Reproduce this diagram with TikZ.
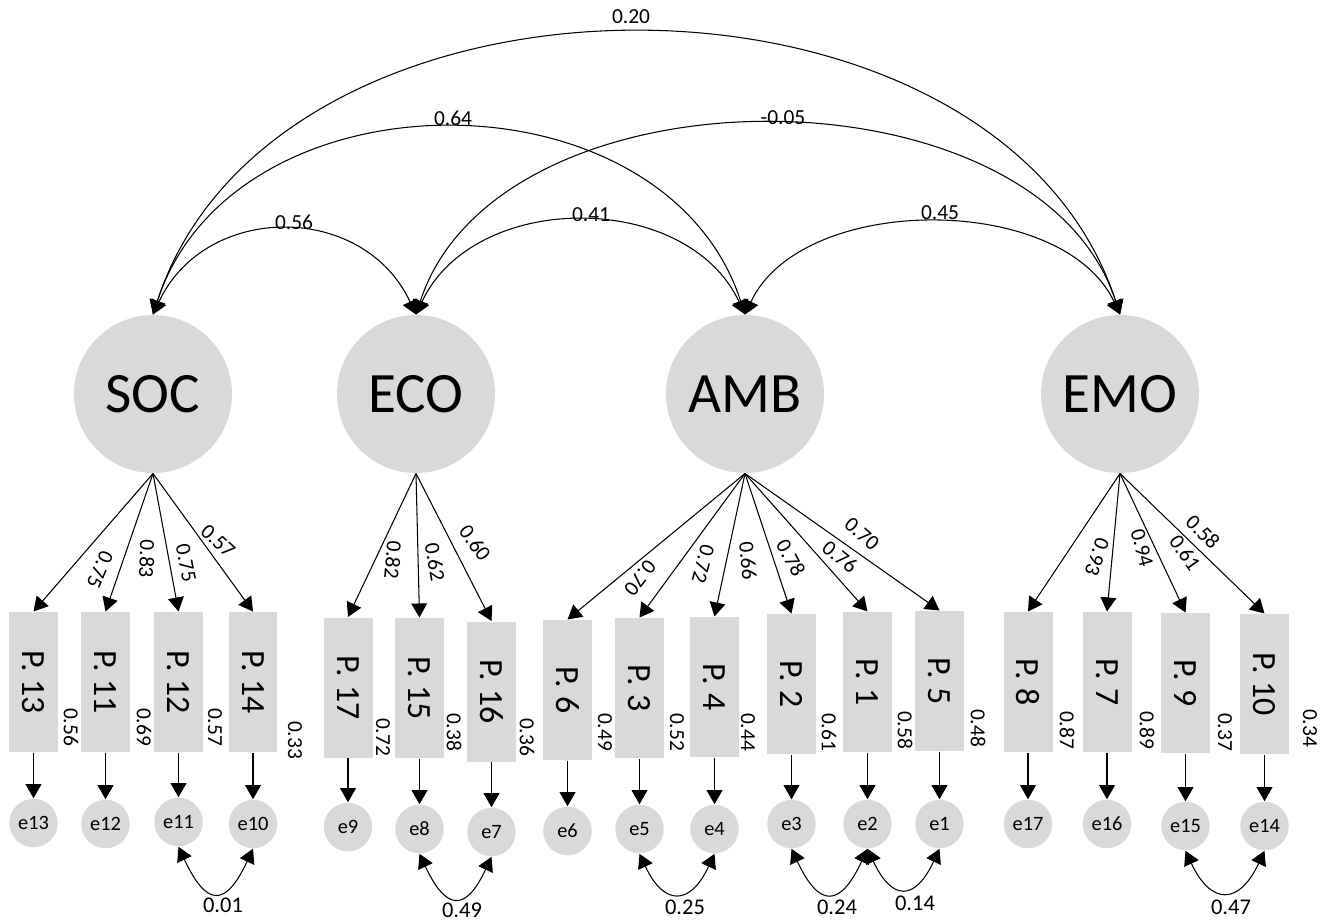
\documentclass[tikz,border=0pt]{standalone}
\usepackage{fontspec}
\setmainfont{Carlito}
\usepackage{graphicx}
\usetikzlibrary{arrows.meta}
\definecolor{semgray}{RGB}{217,217,217}
\tikzset{
  latent/.style={circle, fill=semgray, minimum size=3.16cm, inner sep=0pt, font=\fontsize{32.5}{36}\selectfont},
  indicator/.style={rectangle, fill=semgray, minimum width=0.98cm, minimum height=2.8cm, inner sep=0pt, font=\fontsize{19.3}{22}\selectfont},
  resid/.style={circle, fill=semgray, minimum size=0.97cm, inner sep=0pt, font=\fontsize{11.6}{13}\selectfont},
  coef/.style={inner sep=0pt, font=\fontsize{12.2}{14}\selectfont},
  covcoef/.style={inner sep=0pt, font=\fontsize{12.8}{15}\selectfont},
}

\begin{document}
\begin{tikzpicture}[x=0.02cm, y=-0.02cm, line width=0.6pt, >={Triangle[length=8pt,width=9pt]}]
\useasboundingbox (0,0) rectangle (1334,921);

\node[latent] (SOC) at (153,394) {SOC};
\node[latent] (ECO) at (416,394) {ECO};
\node[latent] (AMB) at (745,394) {AMB};
\node[latent] (EMO) at (1120,394) {EMO};

\draw[<->] (SOC.north) to [out=65, in=115, looseness=1.21] (ECO.north);
\draw[<->] (ECO.north) to [out=65, in=115, looseness=1.07] (AMB.north);
\draw[<->] (AMB.north) to [out=65, in=115, looseness=0.92] (EMO.north);
\draw[<->] (SOC.north) to [out=72, in=108, looseness=1.13] (AMB.north);
\draw[<->] (ECO.north) to [out=72, in=108, looseness=0.97] (EMO.north);
\draw[<->] (SOC.north) to [out=72, in=108, looseness=1.045] (EMO.north);
\node[coef] (cSE) at (294,222) {0.56};
\node[coef] (cEA) at (591,215) {0.41};
\node[coef] (cAM) at (940,213) {0.45};
\node[coef] (cSA) at (453,118) {0.64};
\node[coef] (cEM) at (783,118) {-0.05};
\node[coef] (cSM) at (631,17) {0.20};

\node[indicator] (P13) at (33.5,682) {\rotatebox{-90}{P. 13}};
\node[indicator] (P11) at (105.5,682) {\rotatebox{-90}{P. 11}};
\node[indicator] (P12) at (178.5,682) {\rotatebox{-90}{P. 12}};
\node[indicator] (P14) at (253,682) {\rotatebox{-90}{P. 14}};
\node[indicator] (P17) at (348,687.5) {\rotatebox{-90}{P. 17}};
\node[indicator] (P15) at (419.5,688) {\rotatebox{-90}{P. 15}};
\node[indicator] (P16) at (491.5,691.5) {\rotatebox{-90}{P. 16}};
\node[indicator] (P6) at (567.5,690) {\rotatebox{-90}{P. 6}};
\node[indicator] (P3) at (639.5,688) {\rotatebox{-90}{P. 3}};
\node[indicator] (P4) at (714.5,687) {\rotatebox{-90}{P. 4}};
\node[indicator] (P2) at (791.5,684) {\rotatebox{-90}{P. 2}};
\node[indicator] (P1) at (867.5,682) {\rotatebox{-90}{P. 1}};
\node[indicator] (P5) at (939.5,681) {\rotatebox{-90}{P. 5}};
\node[indicator] (P8) at (1028,682) {\rotatebox{-90}{P. 8}};
\node[indicator] (P7) at (1107,682) {\rotatebox{-90}{P. 7}};
\node[indicator] (P9) at (1185.5,683) {\rotatebox{-90}{P. 9}};
\node[indicator] (P10) at (1264.5,684) {\rotatebox{-90}{P. 10}};

\draw[->] (SOC.south) -- (P13.north);
\draw[->] (SOC.south) -- (P11.north);
\draw[->] (SOC.south) -- (P12.north);
\draw[->] (SOC.south) -- (P14.north);
\draw[->] (ECO.south) -- (P17.north);
\draw[->] (ECO.south) -- (P15.north);
\draw[->] (ECO.south) -- (P16.north);
\draw[->] (AMB.south) -- (P6.north);
\draw[->] (AMB.south) -- (P3.north);
\draw[->] (AMB.south) -- (P4.north);
\draw[->] (AMB.south) -- (P2.north);
\draw[->] (AMB.south) -- (P1.north);
\draw[->] (AMB.south) -- (P5.north);
\draw[->] (EMO.south) -- (P8.north);
\draw[->] (EMO.south) -- (P7.north);
\draw[->] (EMO.south) -- (P9.north);
\draw[->] (EMO.south) -- (P10.north);

\node[coef, rotate=-113] (l13) at (100,570) {0.75};
\node[coef, rotate=-92] (l11) at (147,559) {0.83};
\node[coef, rotate=-79] (l12) at (186,563) {0.75};
\node[coef, rotate=-42] (l14) at (218,541) {0.57};
\node[coef, rotate=-95] (l17) at (393,560) {0.82};
\node[coef, rotate=-80] (l15) at (435,562) {0.62};
\node[coef, rotate=-54] (l16) at (475,543) {0.60};
\node[coef, rotate=-128] (l6) at (640,578) {0.70};
\node[coef, rotate=-105] (l3) at (703,564) {0.72};
\node[coef, rotate=-85] (l4) at (748,561) {0.66};
\node[coef, rotate=-61] (l2) at (791,558) {0.78};
\node[coef, rotate=-39] (l1) at (840,557) {0.76};
\node[coef, rotate=-41] (l5) at (862,534) {0.70};
\node[coef, rotate=-109] (l8) at (1097,557) {0.93};
\node[coef, rotate=-75] (l7) at (1142,548) {0.94};
\node[coef, rotate=-55] (l9) at (1185,553) {0.61};
\node[coef, rotate=-45] (l10) at (1203,532) {0.58};

\node[coef, rotate=-90] (r13) at (71,727) {0.56};
\node[coef, rotate=-90] (r11) at (144,727) {0.69};
\node[coef, rotate=-90] (r12) at (215,727) {0.57};
\node[coef, rotate=-90] (r14) at (295,740) {0.33};
\node[coef, rotate=-90] (r17) at (383,737) {0.72};
\node[coef, rotate=-90] (r15) at (454,732) {0.38};
\node[coef, rotate=-90] (r16) at (527,737) {0.36};
\node[coef, rotate=-90] (r6) at (605,732) {0.49};
\node[coef, rotate=-90] (r3) at (677,732) {0.52};
\node[coef, rotate=-90] (r4) at (748,732) {0.44};
\node[coef, rotate=-90] (r2) at (829,732) {0.61};
\node[coef, rotate=-90] (r1) at (905,730) {0.58};
\node[coef, rotate=-90] (r5) at (978,728) {0.48};
\node[coef, rotate=-90] (r8) at (1067,730) {0.87};
\node[coef, rotate=-90] (r7) at (1147,730) {0.89};
\node[coef, rotate=-90] (r9) at (1225,732) {0.37};
\node[coef, rotate=-90] (r10) at (1310,728) {0.34};

\node[resid] (e13) at (33.5,823) {e13};
\node[resid] (e12) at (105.5,824) {e12};
\node[resid] (e11) at (178.5,822) {e11};
\node[resid] (e10) at (253,824) {e10};
\node[resid] (e9) at (348,827) {e9};
\node[resid] (e8) at (419.5,829) {e8};
\node[resid] (e7) at (491.5,832) {e7};
\node[resid] (e6) at (567.5,831) {e6};
\node[resid] (e5) at (639.5,829) {e5};
\node[resid] (e4) at (714.5,829) {e4};
\node[resid] (e3) at (791.5,824) {e3};
\node[resid] (e2) at (867.5,824) {e2};
\node[resid] (e1) at (939.5,824) {e1};
\node[resid] (e17) at (1028,824) {e17};
\node[resid] (e16) at (1107,824) {e16};
\node[resid] (e15) at (1185.5,826) {e15};
\node[resid] (e14) at (1264.5,826) {e14};

\draw[->] (P13.south) -- (e13.north);
\draw[->] (P11.south) -- (e12.north);
\draw[->] (P12.south) -- (e11.north);
\draw[->] (P14.south) -- (e10.north);
\draw[->] (P17.south) -- (e9.north);
\draw[->] (P15.south) -- (e8.north);
\draw[->] (P16.south) -- (e7.north);
\draw[->] (P6.south) -- (e6.north);
\draw[->] (P3.south) -- (e5.north);
\draw[->] (P4.south) -- (e4.north);
\draw[->] (P2.south) -- (e3.north);
\draw[->] (P1.south) -- (e2.north);
\draw[->] (P5.south) -- (e1.north);
\draw[->] (P8.south) -- (e17.north);
\draw[->] (P7.south) -- (e16.north);
\draw[->] (P9.south) -- (e15.north);
\draw[->] (P10.south) -- (e14.north);

\draw[<->] (e11.south) to [out=-65, in=-115, looseness=2.25] (e10.south);
\draw[<->] (e8.south) to [out=-65, in=-115, looseness=2.2] (e7.south);
\draw[<->] (e5.south) to [out=-65, in=-115, looseness=1.97] (e4.south);
\draw[<->] (e3.south) to [out=-65, in=-115, looseness=2.2] (e2.south);
\draw[<->] (e2.south) to [out=-65, in=-115, looseness=2.06] (e1.south);
\draw[<->] (e15.south) to [out=-65, in=-115, looseness=1.95] (e14.south);
\node[covcoef] (c1011) at (223,905) {0.01};
\node[covcoef] (c78) at (462,910) {0.49};
\node[covcoef] (c45) at (685,907) {0.25};
\node[covcoef] (c23) at (837,907) {0.24};
\node[covcoef] (c12) at (915,903) {0.14};
\node[covcoef] (c1415) at (1231,907) {0.47};

\end{tikzpicture}
\end{document}
